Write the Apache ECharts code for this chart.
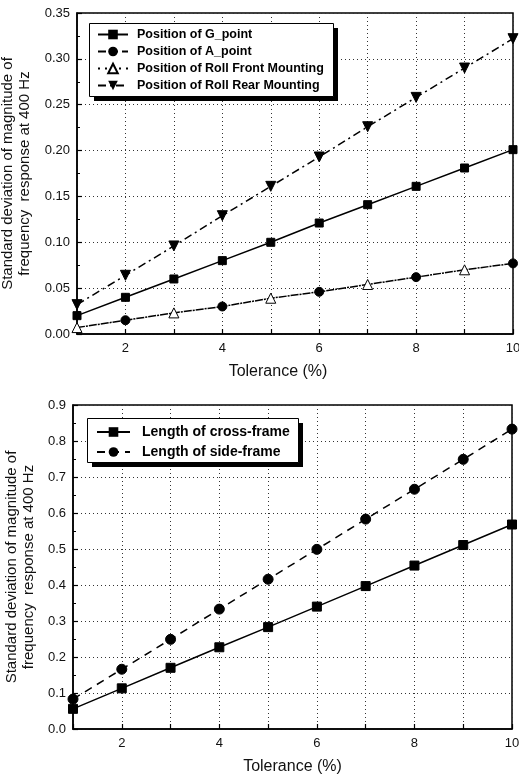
<!DOCTYPE html>
<html>
<head>
<meta charset="utf-8">
<script src="https://cdn.jsdelivr.net/npm/echarts@6/dist/echarts.min.js"></script>
<style>html,body{margin:0;padding:0;background:#fff;}#c{width:519px;height:777px;}</style>
</head>
<body>
<div id="c"></div>
<script>
// Tolerance (%) categories
var tolerance = [1, 2, 3, 4, 5, 6, 7, 8, 9, 10];
// Top chart series
var gPoint = [0.020, 0.040, 0.060, 0.080, 0.100, 0.121, 0.141, 0.161, 0.181, 0.201];
var aPoint = [0.007, 0.015, 0.023, 0.030, 0.039, 0.046, 0.054, 0.062, 0.070, 0.077];
var rollFront = [0.007, 0.015, 0.023, 0.030, 0.039, 0.046, 0.054, 0.062, 0.070, 0.077];
var rollRear = [0.032, 0.064, 0.096, 0.129, 0.161, 0.193, 0.226, 0.258, 0.290, 0.322];
// Bottom chart series
var crossFrame = [0.056, 0.113, 0.170, 0.227, 0.283, 0.340, 0.397, 0.454, 0.511, 0.568];
var sideFrame = [0.083, 0.166, 0.249, 0.333, 0.416, 0.499, 0.583, 0.666, 0.749, 0.833];

var FONT = 'Liberation Sans, Arial, sans-serif';

function pairs(vals, showFn) {
  return tolerance.map(function (x, i) {
    var item = { value: [x, vals[i]] };
    if (showFn && !showFn(x)) item.symbol = 'none';
    return item;
  });
}

var chart = echarts.init(document.getElementById('c'), null, { renderer: 'canvas' });

function xAxisCfg(gridIndex, padRight) {
  return {
    gridIndex: gridIndex, type: 'value', min: 1, max: 10, interval: 1,
    name: 'Tolerance (%)', nameLocation: 'middle', nameGap: 30,
    nameTextStyle: { fontFamily: FONT, fontSize: 16, color: '#111', padding: [0, padRight, 0, 0] },
    axisLine: { show: true, lineStyle: { color: '#000', width: 1.5 } },
    axisTick: { show: true, inside: true, length: 5, lineStyle: { color: '#000', width: 1.2 } },
    axisLabel: {
      fontFamily: FONT, fontSize: 13, color: '#111', margin: 8,
      formatter: function (v) { return (v % 2 === 0) ? String(v) : ''; }
    },
    splitLine: { show: true, lineStyle: { color: '#333', type: [1, 3], width: 1 } }
  };
}

function yAxisCfg(gridIndex, max, interval, dec) {
  return {
    gridIndex: gridIndex, type: 'value', min: 0, max: max, interval: interval,
    name: 'Standard deviation of magnitude of\nfrequency  response at 400 Hz',
    nameLocation: 'middle', nameGap: 36, nameRotate: 90,
    nameTextStyle: { fontFamily: FONT, fontSize: 15, color: '#111', lineHeight: 17 },
    axisLine: { show: true, lineStyle: { color: '#000', width: 1.5 } },
    axisTick: { show: true, inside: true, length: 5, lineStyle: { color: '#000', width: 1.2 } },
    minorTick: { show: true, splitNumber: 2, length: 3, lineStyle: { color: '#000', width: 1 } },
    axisLabel: {
      fontFamily: FONT, fontSize: 13, color: '#111', margin: 7,
      formatter: function (v) { return v.toFixed(dec); }
    },
    splitLine: { show: true, lineStyle: { color: '#333', type: [1, 3], width: 1 } }
  };
}

var legendBase = {
  orient: 'vertical', backgroundColor: 'transparent', borderWidth: 0,
  itemWidth: 30, itemHeight: 12, z: 10,
  textStyle: { fontFamily: FONT, fontSize: 12.5, fontWeight: 'bold', color: '#000', padding: [0, 0, 0, 4] }
};

// legend frame boxes (decoration): [left, top, width, height]
function legendFrame(l, t, w, h) {
  return [
    { type: 'rect', left: l + 5, top: t + 5, z: 8, shape: { width: w, height: h }, style: { fill: '#000' } },
    { type: 'rect', left: l, top: t, z: 9, shape: { width: w, height: h }, style: { fill: '#fff', stroke: '#000', lineWidth: 1 } }
  ];
}

var option = {
  animation: false,
  backgroundColor: '#fff',
  grid: [
    { left: 77, top: 13, width: 436, height: 321, show: true, borderColor: '#000', borderWidth: 1.5, backgroundColor: 'transparent', outerBoundsMode: 'none', containLabel: false },
    { left: 73, top: 405, width: 439, height: 324, show: true, borderColor: '#000', borderWidth: 1.5, backgroundColor: 'transparent', outerBoundsMode: 'none', containLabel: false }
  ],
  graphic: legendFrame(89, 23, 244, 73).concat(legendFrame(87, 418, 211, 44)),
  xAxis: [xAxisCfg(0, 34), xAxisCfg(1, 0)],
  yAxis: [yAxisCfg(0, 0.35, 0.05, 2), yAxisCfg(1, 0.9, 0.1, 1)],
  legend: [
    Object.assign({}, legendBase, {
      left: 89, top: 23, itemGap: 4, padding: [5, 10, 7, 8],
      data: [
        'Position of G_point',
        'Position of A_point',
        { name: 'Position of Roll Front Mounting', lineStyle: { type: [2, 5], dashOffset: 0 } },
        'Position of Roll Rear Mounting'
      ]
    }),
    Object.assign({}, legendBase, {
      left: 87, top: 418, itemGap: 6, padding: [7, 10, 7, 9], itemWidth: 33,
      textStyle: { fontFamily: FONT, fontSize: 14, fontWeight: 'bold', color: '#000', padding: [0, 0, 0, 7] },
      data: ['Length of cross-frame', 'Length of side-frame']
    })
  ],
  series: [
    {
      name: 'Position of G_point', type: 'line', xAxisIndex: 0, yAxisIndex: 0,
      data: pairs(gPoint), symbol: 'rect', symbolSize: 8,
      lineStyle: { color: '#000', width: 1.5, type: 'solid' },
      itemStyle: { color: '#000', borderColor: '#000' }, z: 3
    },
    {
      name: 'Position of A_point', type: 'line', xAxisIndex: 0, yAxisIndex: 0,
      data: pairs(aPoint, function (x) { return x % 2 === 0; }), symbol: 'circle', symbolSize: 9,
      lineStyle: { color: '#000', width: 1.5, type: [8, 4] },
      itemStyle: { color: '#000', borderColor: '#000' }, z: 3
    },
    {
      name: 'Position of Roll Front Mounting', type: 'line', xAxisIndex: 0, yAxisIndex: 0,
      data: pairs(rollFront, function (x) { return x % 2 === 1; }), symbol: 'triangle', symbolSize: 10,
      lineStyle: { color: '#000', width: 1.5, type: [2, 10], dashOffset: 3 },
      itemStyle: { color: '#fff', borderColor: '#000', borderWidth: 1 }, z: 4
    },
    {
      name: 'Position of Roll Rear Mounting', type: 'line', xAxisIndex: 0, yAxisIndex: 0,
      data: pairs(rollRear), symbol: 'triangle', symbolRotate: 180, symbolSize: 10,
      lineStyle: { color: '#000', width: 1.5, type: [8, 4, 2, 4] },
      itemStyle: { color: '#000', borderColor: '#000' }, z: 3
    },
    {
      name: 'Length of cross-frame', type: 'line', xAxisIndex: 1, yAxisIndex: 1,
      data: pairs(crossFrame), symbol: 'rect', symbolSize: 9,
      lineStyle: { color: '#000', width: 1.5, type: 'solid' },
      itemStyle: { color: '#000', borderColor: '#000' }, z: 3
    },
    {
      name: 'Length of side-frame', type: 'line', xAxisIndex: 1, yAxisIndex: 1,
      data: pairs(sideFrame), symbol: 'circle', symbolSize: 10,
      lineStyle: { color: '#000', width: 1.5, type: [8, 6] },
      itemStyle: { color: '#000', borderColor: '#000' }, z: 3
    }
  ]
};
chart.setOption(option);
</script>
</body>
</html>
